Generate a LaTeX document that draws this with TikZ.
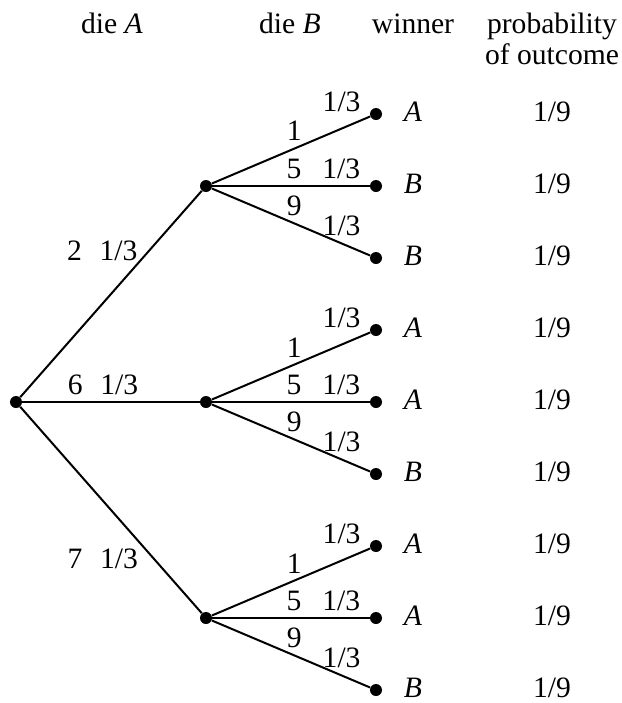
\documentclass[tikz,border=0pt]{standalone}
\usepackage{fontspec}
\setmainfont{Liberation Serif}
\begin{document}
\begin{tikzpicture}[x=0.5pt,y=-0.5pt,font=\fontsize{14.8}{18}\selectfont,
    dot/.style={circle,fill,inner sep=0pt,minimum size=6pt},
    edge/.style={line width=1pt}]
    \useasboundingbox (0,0) rectangle (622,703);
    % headings
    \node[anchor=base] (hA) at (112,33) {die \textit{A}};
    \node[anchor=base] (hB) at (290,33) {die \textit{B}};
    \node[anchor=base] (hW) at (413,33) {winner};
    \node[anchor=base] (hP) at (552,33) {probability};
    \node[anchor=base] (hO) at (552,64) {of outcome};
    % die A
    \node[dot] (root) at (16,402) {};
    \foreach \i/\y/\a/\p/\s/\dx in {1/186/2/0.71/east/-2pt,2/402/6/0.455/south/0pt,3/618/7/0.735/east/-4pt}{
        \node[dot] (m\i) at (206,\y) {};
        \draw[edge] (root) -- node[pos=\p,anchor=\s,xshift=\dx] {\a\hspace{0.6em}1/3} (m\i);
    }
    % die B, winner and probability
    \foreach \k/\g/\y/\d/\h/\w in {1/1/114/1/4.5pt/A,2/1/186/5/0pt/B,3/1/258/9/0pt/B,
        4/2/330/1/4.5pt/A,5/2/402/5/0pt/A,6/2/474/9/0pt/B,
        7/3/546/1/4.5pt/A,8/3/618/5/0pt/A,9/3/690/9/0pt/B}{
        \node[dot] (l\k) at (376,\y) {};
        \node (w\k) at (413,\y-2) {\textit{\w}};
        \node (p\k) at (552,\y-2) {1/9};
        \draw[edge] (m\g) -- node[pos=0.52,above] {\d} node[pos=0.82,above,yshift=\h] {1/3} (l\k);
    }
\end{tikzpicture}
\end{document}
